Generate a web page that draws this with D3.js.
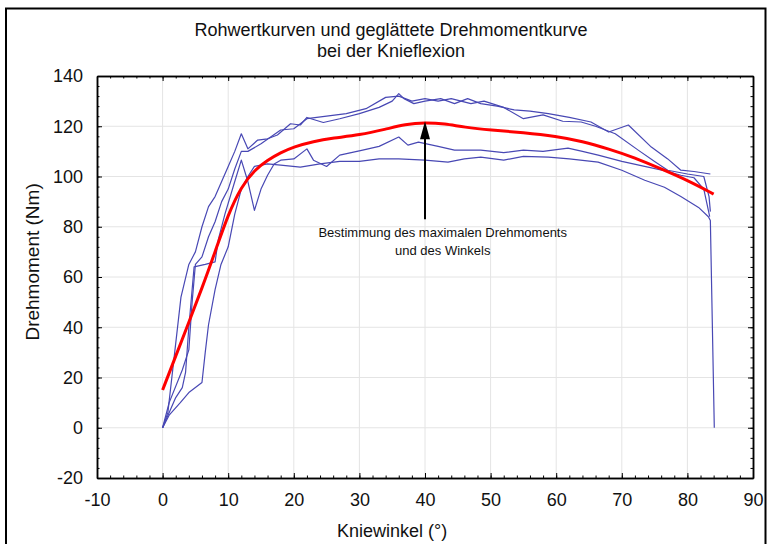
<!DOCTYPE html>
<html>
<head>
<meta charset="utf-8">
<script src="https://cdn.jsdelivr.net/npm/d3@7"></script>
<style>
  body { margin: 0; background: #fff; }
  text { font-family: "Liberation Sans", Arial, sans-serif; fill: #111; }
</style>
</head>
<body>
<div id="chart"></div>
<script>
// chart text
var titleLines = ["Rohwertkurven und geglättete Drehmomentkurve", "bei der Knieflexion"];
var xLabel = "Kniewinkel (°)";
var yLabel = "Drehmoment (Nm)";
var noteLines = ["Bestimmung des maximalen Drehmoments", "und des Winkels"];

// axis ticks
var xTicks = [-10, 0, 10, 20, 30, 40, 50, 60, 70, 80, 90];
var yTicks = [-20, 0, 20, 40, 60, 80, 100, 120, 140];

// raw measurement curves [angle, torque]
var raw1 = [[0,0],[0.8,6],[2.8,52],[4,65],[5,70],[6,80],[7,88],[8,92],[9,98],[10,104],[11,110],[12,117],[13,111],[14.5,114.5],[16,115],[17.5,116.5],[19.5,121],[21,120.5],[22,123.5],[24.5,121.5],[27,123],[30,125],[33,127.5],[35,130],[36,133],[36.8,131],[38.3,129],[40,130],[42.4,131],[44.5,129],[46.5,131],[48.5,129],[51,128],[53.6,126.5],[56,126],[58.8,125],[62,123.5],[65.3,121.7],[68,117.7],[71,120.5],[74.5,111.7],[77,107],[79,102.5],[81,102],[83.5,101]];
var raw2 = [[0,0],[1,10],[3,23],[4,31],[4.5,50],[5,65],[6,68],[7,76],[8,82],[9,90],[10,95],[11,103],[12,110],[13,110],[15,113],[18,118.5],[20,119],[22,123],[25,124],[28,125],[31,127],[34,131.5],[36,132],[38,130],[40,131],[42,130],[44,131],[47,129],[49,130],[52,127.5],[55,123],[58,124.5],[61,122],[63.8,121.7],[66,120],[69,117],[72.5,110.5],[75,106],[77,102.5],[80,101],[82.5,100],[83.3,92],[83.5,86]];
var raw3 = [[0,0],[2,12],[3,16],[3.5,22],[4,40],[4.8,64],[6.5,65],[8,66],[8.5,75],[9.5,85],[11,98],[12,106.5],[13,98],[14,86.5],[15,95],[16,100.5],[17,105],[18,106.5],[20,107],[22,111],[23,106.5],[25,104],[27,108.5],[30.5,110.5],[33,112],[36,115.7],[37.4,112.5],[39,113.7],[42,112],[44.5,110.5],[48.5,110.5],[52,109.5],[55,110.5],[58,110],[61.8,111.3],[64,110],[66.4,108.5],[70,106],[74,103.7],[77,102],[79,100.5],[81,99.5],[82.5,95],[83.4,84]];
var raw4 = [[0,0],[1,5],[2.7,10],[4,14],[5,16],[6,18],[6.5,30],[7,41],[8,55],[8.9,65],[10,72],[11,85],[12,95],[13,100],[14,104],[16,105],[18,104.5],[21,103.7],[24,105],[27,106],[30,106],[33,107],[36,107],[40,106.5],[43.5,105.7],[46,107],[48.5,107.7],[52,106.5],[55,108],[58.8,107.7],[62,107],[66.4,105.7],[70,102.5],[73.5,98.5],[76.5,95.7],[79,92],[81.7,87.7],[83.2,84],[83.5,82.5],[84.1,0]];

// smoothed curve
var smooth = [[0,15],[2,28.5],[4,42],[6,55.5],[8,70],[10,85],[12,96],[14,102.5],[16,106.5],[18,109.5],[20,111.8],[23,114],[26,115.3],[30,116.5],[34,118.8],[37,120.8],[40,121.5],[43,121],[46,119.6],[50,118.5],[55,117.5],[60,116],[64,114],[68,111],[72,107.5],[76,103],[80,98.5],[84,93]];

// annotation: arrow to the maximum
var peakAngle = 40, arrowFrom = 83, arrowTo = 122;
var noteX = 42.7, noteY = [77.8, 70.6];

var margin = {top: 76, right: 14, bottom: 66, left: 97},
    width = 767 - margin.left - margin.right,
    height = 544 - margin.top - margin.bottom;

var svg = d3.select("#chart").append("svg")
    .attr("width", 767).attr("height", 544);

// outer frame
svg.append("path")
    .attr("d", "M6,600V8.5H765.5V600")
    .attr("fill", "none").attr("stroke", "#000").attr("stroke-width", 2);

var g = svg.append("g")
    .attr("transform", "translate(" + margin.left + "," + margin.top + ")");

var x = d3.scaleLinear().domain([-10, 90]).range([0, width]);
var y = d3.scaleLinear().domain([-20, 140]).range([height, 0]);

// grid
g.append("g").selectAll("line").data(xTicks.slice(1, -1)).enter().append("line")
    .attr("x1", d => x(d)).attr("x2", d => x(d)).attr("y1", 0).attr("y2", height)
    .attr("stroke", "#e4e4e4");
g.append("g").selectAll("line").data(yTicks.slice(1, -1)).enter().append("line")
    .attr("y1", d => y(d)).attr("y2", d => y(d)).attr("x1", 0).attr("x2", width)
    .attr("stroke", "#e4e4e4");

var xMinor = d3.range(-10, 90.1, 2), yMinor = d3.range(-20, 140.1, 4);
var plain = d => String(d);

function addAxis(axis, tr) {
  var a = g.append("g").attr("transform", tr).call(axis);
  a.select(".domain").attr("stroke-width", 1.5);
  a.selectAll("text").style("font-size", "18px").attr("fill", "#111");
  return a;
}

// major + minor ticks on all four sides, pointing inward
addAxis(d3.axisBottom(x).tickValues(xTicks).tickSize(-5).tickSizeOuter(0).tickPadding(15).tickFormat(plain), "translate(0," + height + ")");
addAxis(d3.axisBottom(x).tickValues(xMinor).tickSize(-2.5).tickSizeOuter(0).tickFormat(""), "translate(0," + height + ")");
addAxis(d3.axisTop(x).tickValues(xTicks).tickSize(-5).tickSizeOuter(0).tickFormat(""), "translate(0,0)");
addAxis(d3.axisTop(x).tickValues(xMinor).tickSize(-2.5).tickSizeOuter(0).tickFormat(""), "translate(0,0)");
addAxis(d3.axisLeft(y).tickValues(yTicks).tickSize(-5).tickSizeOuter(0).tickPadding(14).tickFormat(plain), "translate(0,0)");
addAxis(d3.axisLeft(y).tickValues(yMinor).tickSize(-2.5).tickSizeOuter(0).tickFormat(""), "translate(0,0)");
addAxis(d3.axisRight(y).tickValues(yTicks).tickSize(-5).tickSizeOuter(0).tickFormat(""), "translate(" + width + ",0)");
addAxis(d3.axisRight(y).tickValues(yMinor).tickSize(-2.5).tickSizeOuter(0).tickFormat(""), "translate(" + width + ",0)");

var line = d3.line().x(d => x(d[0])).y(d => y(d[1]));

// raw curves
g.selectAll(".raw").data([raw1, raw2, raw3, raw4]).enter().append("path")
    .attr("class", "raw")
    .attr("d", line)
    .attr("fill", "none").attr("stroke", "#4848b4").attr("stroke-width", 1.2)
    .attr("stroke-linejoin", "round");

// smoothed curve
g.append("path").datum(smooth)
    .attr("d", d3.line().curve(d3.curveBasis).x(d => x(d[0])).y(d => y(d[1])))
    .attr("fill", "none").attr("stroke", "#f00").attr("stroke-width", 3);

// arrow
var ax = x(peakAngle), tipY = y(arrowTo);
g.append("line")
    .attr("x1", ax).attr("x2", ax).attr("y1", y(arrowFrom)).attr("y2", tipY + 14)
    .attr("stroke", "#000").attr("stroke-width", 2);
g.append("path")
    .attr("d", "M" + ax + "," + tipY + "L" + (ax - 5) + "," + (tipY + 18) + "L" + (ax + 5) + "," + (tipY + 18) + "Z")
    .attr("fill", "#000");

g.selectAll(".note").data(noteLines).enter().append("text")
    .attr("x", x(noteX)).attr("y", (d, i) => y(noteY[i]) + 5)
    .attr("text-anchor", "middle").style("font-size", "13px")
    .text(d => d);

// titles
svg.selectAll(".title").data(titleLines).enter().append("text")
    .attr("x", 391).attr("y", (d, i) => 36 + i * 21)
    .attr("text-anchor", "middle").style("font-size", "18px")
    .text(d => d);

svg.append("text")
    .attr("x", margin.left + x(35)).attr("y", 537)
    .attr("text-anchor", "middle").style("font-size", "18px")
    .text(xLabel);

svg.append("text")
    .attr("transform", "translate(39," + (margin.top + y(66)) + ") rotate(-90)")
    .attr("text-anchor", "middle").style("font-size", "19px")
    .text(yLabel);
</script>
</body>
</html>
